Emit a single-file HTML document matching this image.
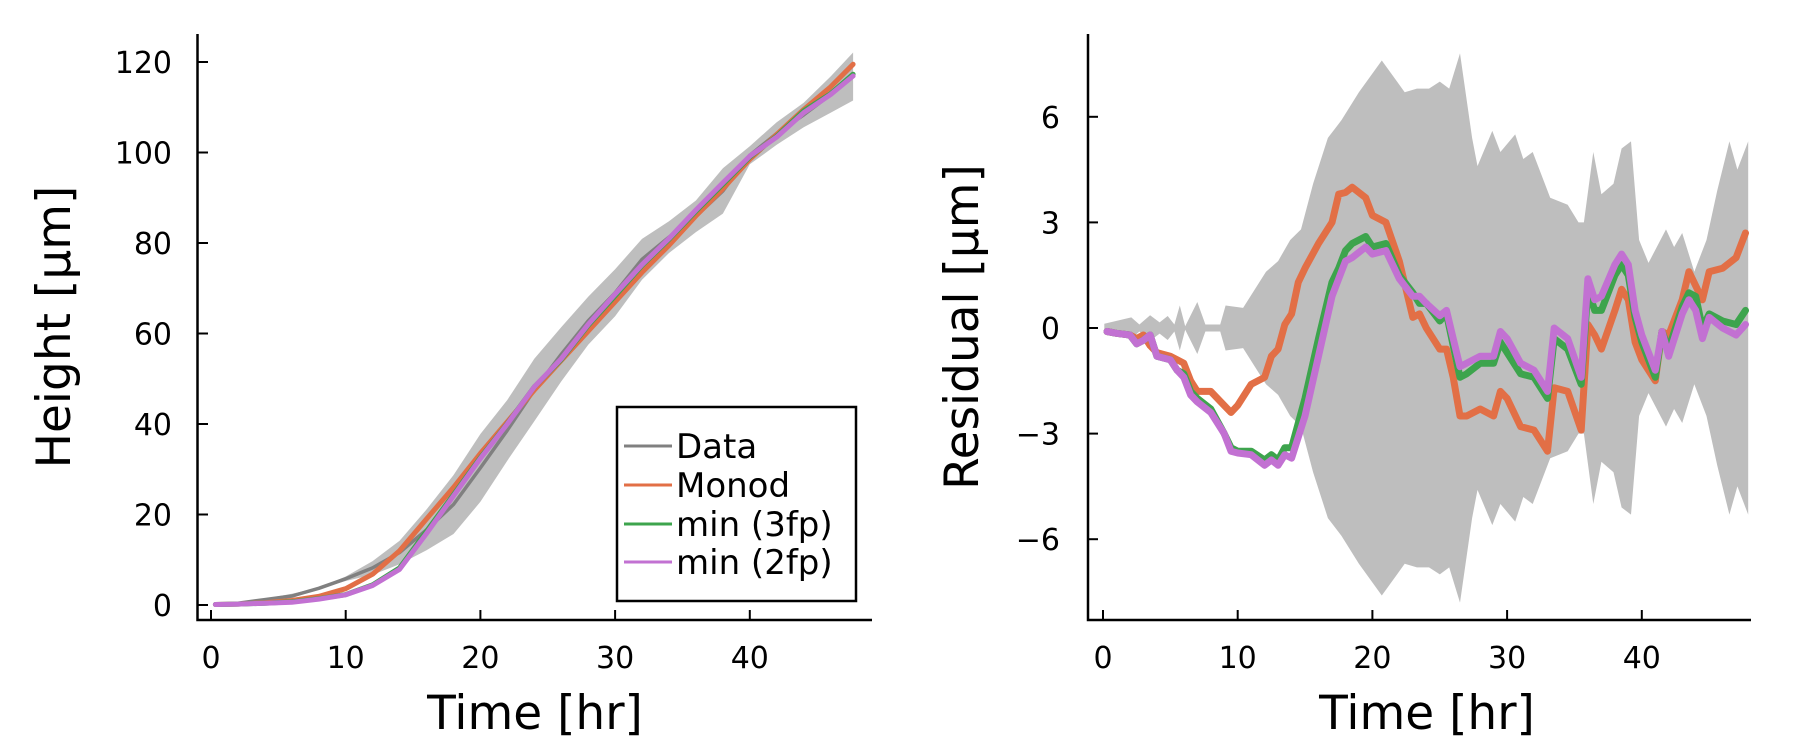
<!DOCTYPE html>
<html><head><meta charset="utf-8">
<style>
html,body{margin:0;padding:0;background:#fff;}
svg{display:block;font-family:"DejaVu Sans","Liberation Sans",sans-serif;}
</style></head>
<body>
<svg id="chart" width="1800" height="750" viewBox="0 0 1800 750" xmlns="http://www.w3.org/2000/svg">
<g id="left"></g>
<g id="right"></g>
</svg>
<script>
// ---- Left panel data ----
const leftTimes = [0.33,2,4,6,8,10,12,14,16,18,20,22,24,26,28,30,32,34,36,38,40,42,44,46,47.67];
const dataHeight = [0.2,0.4,1.2,2.0,3.7,5.8,8.2,11.6,16.6,22.2,30.3,38.6,47.5,55.4,62.8,69,76.4,81.3,85.9,91.5,99.4,104.2,108.3,112.8,116.8];
const dataSd = [0.1,0.2,0.2,0.5,0.1,0.5,1.5,2.6,4.5,6.5,7.5,6.7,6.9,6,5.3,5.2,4.5,3.5,3.5,5.0,2,2.5,2.7,4,5.3];
const monodHeight = [0.1,0.2,0.5,1.0,1.9,3.6,6.8,12,19,26,33.5,40.5,47.5,54,60.5,67,73.5,79.5,86,92,98.5,104,109.5,114.5,119.5];
const fp3Height = [0.1,0.2,0.4,0.7,1.4,2.3,4.45,8.2,16.3,24.4,32.6,40.1,48.2,54.2,61.8,68.3,75,80.8,87,93,99,103.6,109.2,113,117.3];
const fp2Height = [0.1,0.2,0.4,0.6,1.3,2.25,4.3,7.9,15.8,24.1,32.4,40,48.2,54.4,62,68.7,75.2,81,87.3,93.3,99.2,103.4,108.8,112.8,116.9];
const leftXTicks = [0,10,20,30,40];
const leftYTicks = [0,20,40,60,80,100,120];

// ---- Right panel data ----
const bandTimes = [0.1,2.1,2.7,3.5,4.2,4.8,5.3,5.7,6.1,7.0,7.6,8.7,9.1,10.4,12.1,13.0,13.9,14.7,15.6,16.7,17.7,19.0,20.7,22.4,23.3,24.2,25.0,25.7,26.5,27.4,27.8,28.9,29.5,30.6,31.2,31.9,33.2,34.5,35.3,35.7,36.4,37.0,37.9,38.5,39.2,39.8,40.5,41.8,42.4,43.0,43.9,44.8,45.6,46.5,47.1,47.9];
const bandHalf = [0.12,0.3,0.1,0.36,0.16,0.34,0.1,0.64,0.05,0.74,0.1,0.1,0.64,0.57,1.6,1.9,2.5,2.8,4.1,5.4,5.9,6.7,7.6,6.7,6.8,6.8,7.0,6.8,7.8,5.4,4.6,5.6,5.0,5.5,4.8,5.0,3.7,3.5,3.0,3.0,5.0,3.8,4.1,5.1,5.3,2.5,1.85,2.8,2.3,2.7,1.6,2.5,3.9,5.3,4.5,5.3];
const resTimes = [0.3,1,2,2.5,3,3.5,4,5,5.5,6,6.5,7,8,9,9.5,10,11,12,12.5,13,13.5,14,14.5,15,16,17,17.5,18,18.5,19.5,20,21,22,23,23.5,24,25,25.5,26,26.5,27,28,29,29.5,30,31,32,33,33.5,34.5,35.5,36,36.5,37,38,38.5,39,39.5,40,41,41.5,42,43,43.5,44,44.5,45,46,47,47.7];
const resMonod = [-0.1,-0.15,-0.2,-0.3,-0.2,-0.5,-0.7,-0.8,-0.9,-1.0,-1.5,-1.8,-1.8,-2.2,-2.4,-2.2,-1.6,-1.4,-0.8,-0.6,0.1,0.4,1.3,1.7,2.4,3.0,3.8,3.85,4.0,3.7,3.2,3.0,1.9,0.3,0.4,0.0,-0.6,-0.6,-1.4,-2.5,-2.5,-2.3,-2.5,-1.8,-2.0,-2.8,-2.9,-3.5,-1.7,-1.8,-2.9,0.1,-0.2,-0.6,0.5,1.1,0.8,-0.4,-0.9,-1.5,-0.1,-0.2,0.8,1.6,1.2,0.8,1.6,1.7,2.0,2.7];
const res3fp = [-0.1,-0.15,-0.2,-0.45,-0.35,-0.2,-0.8,-0.9,-1.2,-1.3,-1.8,-2.0,-2.3,-3.0,-3.4,-3.5,-3.5,-3.75,-3.6,-3.75,-3.4,-3.4,-2.7,-2.0,-0.3,1.3,1.7,2.2,2.4,2.6,2.3,2.4,1.5,1.0,0.7,0.7,0.2,0.4,-0.5,-1.4,-1.3,-1.0,-1.0,-0.4,-0.7,-1.3,-1.4,-2.0,-0.3,-0.6,-1.6,1.1,0.5,0.5,1.5,1.8,1.5,0.3,-0.4,-1.4,-0.1,-0.6,0.6,1.0,0.9,0.0,0.4,0.2,0.1,0.5];
const res2fp = [-0.1,-0.15,-0.2,-0.45,-0.35,-0.2,-0.8,-0.9,-1.2,-1.4,-1.9,-2.1,-2.4,-3.0,-3.5,-3.55,-3.6,-3.9,-3.75,-3.9,-3.6,-3.7,-3.1,-2.5,-0.8,0.9,1.4,1.9,2.0,2.3,2.1,2.2,1.4,0.9,0.9,0.7,0.35,0.5,-0.3,-1.1,-1.0,-0.8,-0.8,-0.1,-0.3,-1.0,-1.2,-1.8,0.0,-0.3,-1.4,1.4,0.8,0.9,1.8,2.1,1.8,0.5,-0.2,-1.2,-0.1,-0.8,0.4,0.8,0.5,-0.3,0.3,0.0,-0.2,0.1];
const rightXTicks = [0,10,20,30,40];
const rightYTicks = [-6,-3,0,3,6];
const rightYLabels = ["\u22126","\u22123","0","3","6"];

const NS = "http://www.w3.org/2000/svg";
function mk(parent, tag, attrs, text){
  const e = document.createElementNS(NS, tag);
  for (const k in attrs) e.setAttribute(k, attrs[k]);
  if (text !== undefined) e.textContent = text;
  parent.appendChild(e);
  return e;
}
const COL = {data:"#808080", band:"#bebebe", monod:"#e26f46", fp3:"#3da44d", fp2:"#c271d2"};
const TICKFS = 30;

// ---------- Left panel ----------
const L = document.getElementById("left");
const lx = t => 211 + (t/10)*134.7;
const ly = v => 605 - (v/20)*90.5;
function ptsL(xs, ys){ return xs.map((t,i)=>lx(t).toFixed(1)+","+ly(ys[i]).toFixed(1)).join(" "); }

let bandPts = leftTimes.map((t,i)=>lx(t).toFixed(1)+","+ly(dataHeight[i]+dataSd[i]).toFixed(1));
for (let i=leftTimes.length-1;i>=0;i--) bandPts.push(lx(leftTimes[i]).toFixed(1)+","+ly(dataHeight[i]-dataSd[i]).toFixed(1));
const lb = mk(L,"polygon",{points:bandPts.join(" "),fill:COL.band,stroke:"none"});



const lseries = [
  ["data-line", dataHeight, COL.data, 3.5],
  ["monod-line", monodHeight, COL.monod, 5],
  ["min-3fp-line", fp3Height, COL.fp3, 5],
  ["min-2fp-line", fp2Height, COL.fp2, 5]
];
for (const s of lseries){
  const p = mk(L,"polyline",{points:ptsL(leftTimes,s[1]),fill:"none",stroke:s[2],"stroke-width":s[3],"stroke-linejoin":"round","stroke-linecap":"round"});
  
  
}
const lax = mk(L,"path",{d:"M197.5,34 V620 H872",fill:"none",stroke:"#000","stroke-width":2.5});


for (const t of leftXTicks){
  const tk = mk(L,"line",{x1:lx(t),x2:lx(t),y1:620,y2:610,stroke:"#000","stroke-width":2});
  
  
  const tl = mk(L,"text",{x:lx(t),y:668,"font-size":TICKFS,"text-anchor":"middle"},String(t));
  
  
}
for (const v of leftYTicks){
  const tk = mk(L,"line",{x1:197.5,x2:208,y1:ly(v),y2:ly(v),stroke:"#000","stroke-width":2});
  
  
  const tl = mk(L,"text",{x:172,y:ly(v)+11,"font-size":TICKFS,"text-anchor":"end"},String(v));
  
  
}
const lxt = mk(L,"text",{x:535,y:729,"font-size":47,"text-anchor":"middle"},"Time [hr]");


const lyt = mk(L,"text",{x:0,y:0,"font-size":47,"text-anchor":"middle",transform:"translate(70,327) rotate(-90)"},"Height [\u00b5m]");


const lg = mk(L,"g",{});


mk(lg,"rect",{x:617,y:407,width:239,height:194,fill:"#fff",stroke:"#000","stroke-width":2.5});
const legendItems = [["Data",COL.data,446],["Monod",COL.monod,485],["min (3fp)",COL.fp3,524],["min (2fp)",COL.fp2,562]];
for (const it of legendItems){
  const g = mk(lg,"g",{});
  
  
  mk(g,"line",{x1:624,x2:672,y1:it[2],y2:it[2],stroke:it[1],"stroke-width":3});
  mk(g,"text",{x:676,y:it[2]+12,"font-size":34},it[0]);
}

// ---------- Right panel ----------
const R = document.getElementById("right");
const rx = t => 1103 + (t/10)*134.7;
const ry = v => 328 - v*35.2;
let rb = bandTimes.map((t,i)=>rx(t).toFixed(1)+","+ry(bandHalf[i]).toFixed(1));
for (let i=bandTimes.length-1;i>=0;i--) rb.push(rx(bandTimes[i]).toFixed(1)+","+ry(-bandHalf[i]).toFixed(1));
const rbp = mk(R,"polygon",{points:rb.join(" "),fill:COL.band,stroke:"none"});


const rseries = [["monod-residual",resMonod,COL.monod],["min-3fp-residual",res3fp,COL.fp3],["min-2fp-residual",res2fp,COL.fp2]];
for (const s of rseries){
  const p = mk(R,"polyline",{points:resTimes.map((t,i)=>rx(t).toFixed(1)+","+ry(s[1][i]).toFixed(1)).join(" "),fill:"none",stroke:s[2],"stroke-width":7,"stroke-linejoin":"round","stroke-linecap":"round"});
  
  
}
const rax = mk(R,"path",{d:"M1088,34 V620 H1751",fill:"none",stroke:"#000","stroke-width":2.5});


for (const t of rightXTicks){
  const tk = mk(R,"line",{x1:rx(t),x2:rx(t),y1:620,y2:610,stroke:"#000","stroke-width":2});
  
  
  const tl = mk(R,"text",{x:rx(t),y:668,"font-size":TICKFS,"text-anchor":"middle"},String(t));
  
  
}
rightYTicks.forEach((v,i)=>{
  const tk = mk(R,"line",{x1:1088,x2:1098,y1:ry(v),y2:ry(v),stroke:"#000","stroke-width":2});
  
  
  const tl = mk(R,"text",{x:1060,y:ry(v)+11,"font-size":TICKFS,"text-anchor":"end"},rightYLabels[i]);
  
  
});
const rxt = mk(R,"text",{x:1427,y:729,"font-size":47,"text-anchor":"middle"},"Time [hr]");


const ryt = mk(R,"text",{x:0,y:0,"font-size":47,"text-anchor":"middle",transform:"translate(978,327) rotate(-90)"},"Residual [\u00b5m]");


</script>
</body></html>
